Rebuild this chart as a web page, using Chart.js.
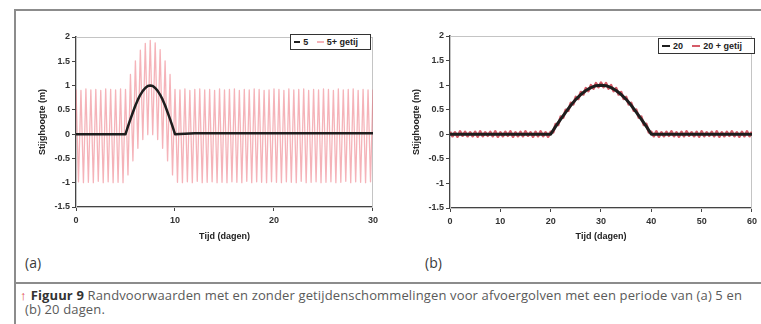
<!DOCTYPE html>
<html lang="nl">
<head>
<meta charset="utf-8">
<script src="https://cdn.jsdelivr.net/npm/chart.js@4/dist/chart.umd.min.js"></script>
<style>
  body { margin: 0; width: 761px; height: 324px; background: #fff; position: relative; overflow: hidden; font-family: "Liberation Sans", Arial, sans-serif; }
  .lijn { position: absolute; background: #8c8c8c; }
  .paneel { position: absolute; }
  .legenda { position: absolute; box-sizing: border-box; border: 1.5px solid #333; background: #fff; font: bold 9px "Liberation Sans", Arial, sans-serif; color: #222; display: flex; align-items: center; padding: 0 3px; white-space: nowrap; }
  .legenda i { display: inline-block; width: 9px; height: 2px; margin-right: 3px; }
  .legenda span { margin-right: 9px; }
  .letter { position: absolute; font: 14px "Open Sans", sans-serif; color: #3a3a3a; }
  .onderschrift { position: absolute; font: 13px "Open Sans", sans-serif; color: #5a5a5a; white-space: nowrap; }
  .pijl { color: #e0443c; font-weight: bold; margin-right: 4px; }
</style>
</head>
<body>
<div class="lijn" style="left:15px; top:9px; width:746px; height:2px;"></div>
<div class="lijn" style="left:14px; top:9px; width:2px; height:315px;"></div>
<div class="lijn" style="left:15px; top:282px; width:746px; height:2px;"></div>

<canvas id="grafiekA" class="paneel" style="left:20px; top:28px;" width="362" height="220"></canvas>
<canvas id="grafiekB" class="paneel" style="left:394px; top:27px;" width="367" height="221"></canvas>

<div id="legendaA" class="legenda" style="left:290px; top:34px; width:81px; height:16px;"></div>
<div id="legendaB" class="legenda" style="left:658px; top:38px; width:97px; height:16px;"></div>

<div class="letter" style="left:25px; top:253px;">(a)</div>
<div class="letter" style="left:425px; top:253px;">(b)</div>

<div id="regel1" class="onderschrift" style="left:20px; top:286px;"><span class="pijl">↑</span><b style="color:#333; font-weight:700">Figuur 9</b> Randvoorwaarden met en zonder getijdenschommelingen voor afvoergolven met een periode van (a) 5 en</div>
<div id="regel2" class="onderschrift" style="left:25px; top:300px;">(b) 20 dagen.</div>

<script>
// Paneel (a): afvoergolf van 5 dagen, zonder en met getij
const namenA = ['5', '5+ getij'];
const tijdAfvoerA = [0, 5, 5.25, 5.5, 5.75, 6, 6.25, 6.5, 6.75, 7, 7.25, 7.5, 7.75, 8, 8.25, 8.5, 8.75, 9, 9.25, 9.5, 9.75, 10, 12, 30];
const afvoerA = [0, 0, 0.16, 0.31, 0.45, 0.59, 0.71, 0.81, 0.89, 0.95, 0.99, 1, 0.99, 0.95, 0.89, 0.81, 0.71, 0.59, 0.45, 0.31, 0.16, 0, 0.02, 0.02];

const tijdGetijA = [
  0, 0.25, 0.5, 0.75, 1, 1.25, 1.5, 1.75, 2, 2.25, 2.5, 2.75, 3, 3.25, 3.5, 3.75, 4, 4.25, 4.5, 4.75,
  5, 5.25, 5.5, 5.75, 6, 6.25, 6.5, 6.75, 7, 7.25, 7.5, 7.75, 8, 8.25, 8.5, 8.75, 9, 9.25, 9.5, 9.75,
  10, 10.25, 10.5, 10.75, 11, 11.25, 11.5, 11.75, 12, 12.25, 12.5, 12.75, 13, 13.25, 13.5, 13.75, 14, 14.25, 14.5, 14.75,
  15, 15.25, 15.5, 15.75, 16, 16.25, 16.5, 16.75, 17, 17.25, 17.5, 17.75, 18, 18.25, 18.5, 18.75, 19, 19.25, 19.5, 19.75,
  20, 20.25, 20.5, 20.75, 21, 21.25, 21.5, 21.75, 22, 22.25, 22.5, 22.75, 23, 23.25, 23.5, 23.75, 24, 24.25, 24.5, 24.75,
  25, 25.25, 25.5, 25.75, 26, 26.25, 26.5, 26.75, 27, 27.25, 27.5, 27.75, 28, 28.25, 28.5, 28.75, 29, 29.25, 29.5, 29.75,
  30
];
const getijA = [
  0.92, -0.98, 0.9, -1.0, 0.93, -0.99, 0.91, -1.0, 0.92, -0.97, 0.9, -1.0, 0.93, -0.98, 0.92, -1.0, 0.91, -0.99, 0.93, -1.0,
  0.92, -0.84, 1.23, -0.55, 1.51, -0.29, 1.73, -0.11, 1.87, -0.01, 1.93, -0.01, 1.88, -0.11, 1.74, -0.29, 1.51, -0.55, 1.23, -0.84,
  0.92, -0.99, 0.91, -1.0, 0.93, -0.98, 0.9, -1.0, 0.92, -0.97, 0.93, -1.0, 0.91, -0.99, 0.92, -0.98, 0.9, -1.0, 0.93, -0.99,
  0.91, -1.0, 0.92, -0.98, 0.93, -0.99, 0.9, -1.0, 0.92, -0.97, 0.91, -1.0, 0.93, -0.98, 0.92, -0.99, 0.9, -1.0, 0.91, -0.98,
  0.93, -0.99, 0.92, -1.0, 0.9, -0.98, 0.93, -0.99, 0.91, -1.0, 0.92, -0.97, 0.93, -1.0, 0.9, -0.99, 0.92, -0.98, 0.91, -1.0,
  0.93, -0.99, 0.92, -0.98, 0.9, -1.0, 0.93, -0.99, 0.91, -0.97, 0.92, -1.0, 0.93, -0.98, 0.9, -0.99, 0.92, -1.0, 0.91, -0.98,
  0.92
];

// Paneel (b): afvoergolf van 20 dagen, zonder en met getij
const namenB = ['20', '20 + getij'];
const tijdAfvoerB = [0, 20, 21, 22, 23, 24, 25, 26, 27, 28, 29, 30, 31, 32, 33, 34, 35, 36, 37, 38, 39, 40, 60];
const afvoerB = [0, 0, 0.16, 0.31, 0.45, 0.59, 0.71, 0.81, 0.89, 0.95, 0.99, 1, 0.99, 0.95, 0.89, 0.81, 0.71, 0.59, 0.45, 0.31, 0.16, 0, 0];

const tijdGetijB = [
  0, 0.5, 1, 1.5, 2, 2.5, 3, 3.5, 4, 4.5, 5, 5.5, 6, 6.5, 7, 7.5, 8, 8.5, 9, 9.5,
  10, 10.5, 11, 11.5, 12, 12.5, 13, 13.5, 14, 14.5, 15, 15.5, 16, 16.5, 17, 17.5, 18, 18.5, 19, 19.5,
  20, 20.5, 21, 21.5, 22, 22.5, 23, 23.5, 24, 24.5, 25, 25.5, 26, 26.5, 27, 27.5, 28, 28.5, 29, 29.5,
  30, 30.5, 31, 31.5, 32, 32.5, 33, 33.5, 34, 34.5, 35, 35.5, 36, 36.5, 37, 37.5, 38, 38.5, 39, 39.5,
  40, 40.5, 41, 41.5, 42, 42.5, 43, 43.5, 44, 44.5, 45, 45.5, 46, 46.5, 47, 47.5, 48, 48.5, 49, 49.5,
  50, 50.5, 51, 51.5, 52, 52.5, 53, 53.5, 54, 54.5, 55, 55.5, 56, 56.5, 57, 57.5, 58, 58.5, 59, 59.5,
  60
];
const getijB = [
  0.05, -0.04, 0.04, -0.05, 0.06, -0.03, 0.05, -0.04, 0.04, -0.04, 0.05, -0.05, 0.06, -0.04, 0.04, -0.03, 0.05, -0.04, 0.06, -0.05,
  0.04, -0.04, 0.05, -0.03, 0.06, -0.05, 0.04, -0.04, 0.05, -0.04, 0.06, -0.03, 0.04, -0.05, 0.05, -0.04, 0.06, -0.04, 0.04, -0.05,
  0.05, 0.04, 0.21, 0.19, 0.36, 0.34, 0.5, 0.48, 0.64, 0.61, 0.76, 0.72, 0.86, 0.81, 0.94, 0.88, 1.0, 0.93, 1.04, 0.96,
  1.05, 0.96, 1.04, 0.93, 1.0, 0.88, 0.94, 0.81, 0.86, 0.72, 0.76, 0.61, 0.64, 0.48, 0.5, 0.34, 0.36, 0.19, 0.21, 0.04,
  0.05, -0.04, 0.06, -0.05, 0.04, -0.04, 0.05, -0.03, 0.06, -0.04, 0.04, -0.05, 0.05, -0.04, 0.06, -0.03, 0.04, -0.04, 0.05, -0.05,
  0.06, -0.04, 0.04, -0.03, 0.05, -0.04, 0.06, -0.05, 0.04, -0.04, 0.05, -0.03, 0.06, -0.04, 0.04, -0.05, 0.05, -0.04, 0.06, -0.04,
  0.05
];

// Asverdeling
const yTicks = [-1.5, -1, -0.5, 0, 0.5, 1, 1.5, 2];
const xTicksA = [0, 10, 20, 30];
const xTicksB = [0, 10, 20, 30, 40, 50, 60];

const zwart = '#1e1e1e';
const getijKleurA = 'rgba(236, 104, 116, 0.5)';
const getijKleurB = 'rgba(206, 62, 78, 0.85)';

function punten(xs, ys) {
  return xs.map((x, i) => ({ x: x, y: ys[i] }));
}

// Lichtgrijze rand om het plotgebied
const plotRand = {
  id: 'plotRand',
  beforeDatasetsDraw(chart) {
    const a = chart.chartArea;
    const ctx = chart.ctx;
    ctx.save();
    ctx.strokeStyle = '#c4c4c4';
    ctx.lineWidth = 1;
    ctx.strokeRect(a.left + 0.5, a.top + 0.5, a.right - a.left - 1, a.bottom - a.top);
    ctx.restore();
  }
};

function maakGrafiek(id, reeksen, xMax, xTicks, breedteY, hoogteX, rechts) {
  const asFont = { family: 'Liberation Sans', size: 9, weight: 'bold' };
  return new Chart(document.getElementById(id), {
    type: 'line',
    data: { datasets: reeksen },
    options: {
      responsive: false,
      animation: false,
      parsing: false,
      layout: { padding: { top: 9, right: rechts, left: 0, bottom: 0 } },
      plugins: { legend: { display: false }, tooltip: { enabled: false } },
      elements: { point: { radius: 0 }, line: { borderJoinStyle: 'round' } },
      scales: {
        x: {
          type: 'linear',
          min: 0,
          max: xMax,
          afterBuildTicks: s => { s.ticks = xTicks.map(v => ({ value: v })); },
          afterFit: s => { s.height = hoogteX; },
          border: { color: '#444', width: 1.5 },
          grid: { drawOnChartArea: false, color: '#444', tickLength: 4 },
          ticks: { color: '#333', font: asFont, padding: 4, maxRotation: 0, callback: v => String(v) },
          title: { display: true, text: 'Tijd (dagen)', color: '#222', font: asFont, padding: { top: 0, bottom: 6 } }
        },
        y: {
          min: -1.5,
          max: 2,
          afterBuildTicks: s => { s.ticks = yTicks.map(v => ({ value: v })); },
          afterFit: s => { s.width = breedteY; },
          border: { color: '#444', width: 1.5 },
          grid: { drawOnChartArea: false, color: '#444', tickLength: 4 },
          ticks: { color: '#333', font: asFont, padding: 2, callback: v => String(v) },
          title: { display: true, text: 'Stijghoogte (m)', color: '#222', font: asFont, padding: { top: 17, bottom: 0 } }
        }
      }
    },
    plugins: [plotRand]
  });
}

// Zwarte lijn eerst, zodat die boven de getijreeks wordt getekend
maakGrafiek('grafiekA', [
  { label: namenA[0], data: punten(tijdAfvoerA, afvoerA), borderColor: zwart, borderWidth: 2.5, tension: 0 },
  { label: namenA[1], data: punten(tijdGetijA, getijA), borderColor: getijKleurA, borderWidth: 1.3, tension: 0 }
], 30, xTicksA, 56, 41, 6);

maakGrafiek('grafiekB', [
  { label: namenB[0], data: punten(tijdAfvoerB, afvoerB), borderColor: zwart, borderWidth: 3, tension: 0 },
  { label: namenB[1], data: punten(tijdGetijB, getijB), borderColor: getijKleurB, borderWidth: 2.6, tension: 0 }
], 60, xTicksB, 56, 40, 3);

// Legenda's met een kader
function vulLegenda(id, namen, kleuren) {
  document.getElementById(id).innerHTML = namen.map((n, i) =>
    `<i style="background:${kleuren[i]}"></i><span>${n}</span>`).join('');
}
vulLegenda('legendaA', namenA, [zwart, getijKleurA]);
vulLegenda('legendaB', namenB, [zwart, getijKleurB]);

// Eerste regel van het onderschrift uitvullen tot 722 px breed
const regel1 = document.getElementById('regel1');
const spatie = (722 - regel1.getBoundingClientRect().width) / regel1.textContent.length;
regel1.style.letterSpacing = spatie + 'px';
document.getElementById('regel2').style.letterSpacing = spatie + 'px';
</script>
</body>
</html>
